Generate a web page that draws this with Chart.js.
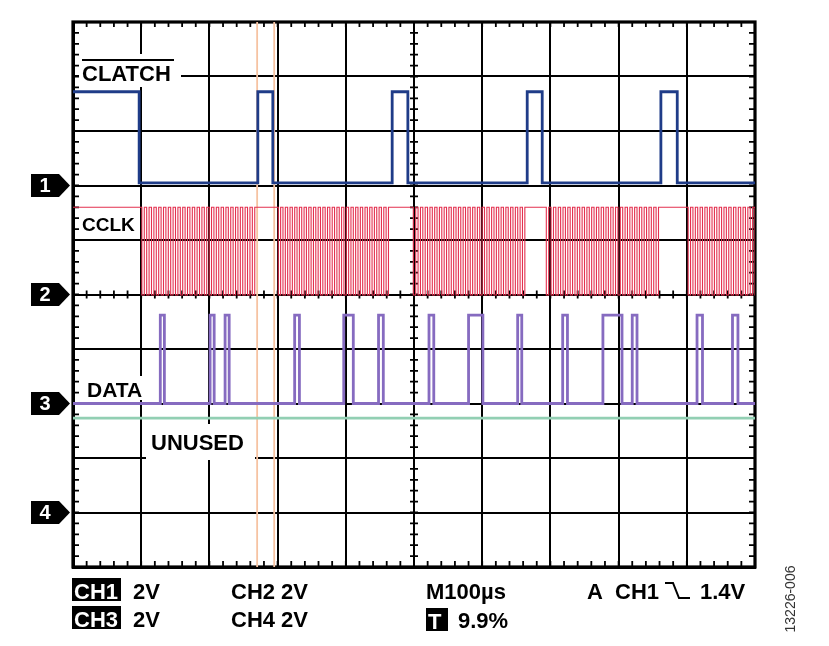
<!DOCTYPE html>
<html>
<head>
<meta charset="utf-8">
<title>CLATCH / CCLK / DATA</title>
<script src="https://cdn.jsdelivr.net/npm/chart.js@4.4.0/dist/chart.umd.min.js"></script>
<style>
  html, body { margin: 0; padding: 0; background: #fff; }
  #wrap { width: 829px; height: 646px; }
</style>
</head>
<body>
<div id="wrap"><canvas id="scope" width="829" height="646"></canvas></div>
<script>
// screen is 10 x 10 divisions, all values in divisions (0 = bottom / left)
var clatchLevels = [7.05, 8.72];   // low, high
var clatchEdges = [0.97, 2.71, 2.93, 4.68, 4.91, 6.66, 6.88, 8.62, 8.86];   // starts high

var cclkLevels = [4.99, 6.60];
var cclkBursts = [[1.01, 2.70], [3.01, 4.66], [4.99, 6.66], [6.94, 8.62], [9.02, 10.7]];
var cclkCycles = 24;   // clocks per burst

var dataLevels = [3.00, 4.62];
var dataEdges = [1.28, 1.34, 2.01, 2.07, 2.23, 2.29, 3.25, 3.32, 3.97, 4.11, 4.48, 4.55,
                 5.22, 5.29, 5.80, 6.01, 6.52, 6.58, 7.18, 7.25, 7.77, 8.05, 8.20, 8.27,
                 9.15, 9.23, 9.67, 9.75];   // starts low

var unusedLevel = 2.73;
var cursorPos = [2.70, 2.95];
var channelMarks = [["1", 7], ["2", 5], ["3", 3], ["4", 1]];

var FONT = '"Liberation Sans", Arial, sans-serif';

function squarePoints(edges, levels, startHigh) {
    var lvl = startHigh ? 1 : 0;
    var pts = [{x: 0, y: levels[lvl]}];
    edges.forEach(function (e) {
        pts.push({x: e, y: levels[lvl]});
        lvl = 1 - lvl;
        pts.push({x: e, y: levels[lvl]});
    });
    pts.push({x: 10, y: levels[lvl]});
    return pts;
}

function clockEdges(bursts, n) {
    var out = [];
    bursts.forEach(function (b) {
        var t = (b[1] - b[0]) / n;
        for (var k = 0; k < n; k++) {
            out.push(b[0] + k * t, b[0] + (k + 0.5) * t);
        }
    });
    return out;
}

function trace(label, pts, color, width, order) {
    return {
        label: label, data: pts, borderColor: color, borderWidth: width,
        pointRadius: 0, tension: 0, fill: false, order: order
    };
}

var datasets = [
    trace("CLATCH", squarePoints(clatchEdges, clatchLevels, true), "#1f3c88", 2.8, 1),
    trace("CCLK", squarePoints(clockEdges(cclkBursts, cclkCycles), cclkLevels, true), "#e4304f", 1.1, 2),
    trace("DATA", squarePoints(dataEdges, dataLevels, false), "#866bc0", 2.8, 1),
    trace("UNUSED", [{x: 0, y: unusedLevel}, {x: 10, y: unusedLevel}], "#92cfb3", 2.8, 3)
];
cursorPos.forEach(function (c) {
    datasets.push(trace("cursor", [{x: c, y: 0}, {x: c, y: 10}], "#f6c3a2", 1.8, 5));
});

// frame, minor ticks and the channel ground markers
var screenDecor = {
    id: "screenDecor",
    beforeDatasetsDraw: function (chart) {
        var ctx = chart.ctx, a = chart.chartArea;
        var xs = chart.scales.x, ys = chart.scales.y;
        var cx = xs.getPixelForValue(5), cy = ys.getPixelForValue(5);
        ctx.save();
        ctx.strokeStyle = "#000";
        ctx.lineWidth = 1.8;
        ctx.beginPath();
        for (var i = 0; i <= 50; i++) {
            var px = xs.getPixelForValue(i / 5), py = ys.getPixelForValue(i / 5);
            ctx.moveTo(px, a.top); ctx.lineTo(px, a.top + 5);
            ctx.moveTo(px, a.bottom); ctx.lineTo(px, a.bottom - 6);
            ctx.moveTo(px, cy - 4); ctx.lineTo(px, cy + 4);
            ctx.moveTo(a.left, py); ctx.lineTo(a.left + 6, py);
            ctx.moveTo(a.right, py); ctx.lineTo(a.right - 6, py);
            ctx.moveTo(cx - 4, py); ctx.lineTo(cx + 4, py);
        }
        ctx.stroke();
        ctx.lineWidth = 3.2;
        ctx.strokeRect(a.left, a.top, a.right - a.left, a.bottom - a.top);
        ctx.restore();
    },
    afterDraw: function (chart) {
        var ctx = chart.ctx, ys = chart.scales.y;
        ctx.save();
        channelMarks.forEach(function (m) {
            var y = ys.getPixelForValue(m[1]);
            ctx.fillStyle = "#000";
            ctx.beginPath();
            ctx.moveTo(31, y - 11.5); ctx.lineTo(59, y - 11.5); ctx.lineTo(70, y);
            ctx.lineTo(59, y + 11.5); ctx.lineTo(31, y + 11.5); ctx.closePath();
            ctx.fill();
            ctx.fillStyle = "#fff";
            ctx.font = "bold 20px " + FONT;
            ctx.textAlign = "center";
            ctx.textBaseline = "middle";
            ctx.fillText(m[0], 45, y + 1);
        });
        ctx.restore();
    }
};

// trace names and the readout below the screen
var readout = {
    id: "readout",
    afterDraw: function (chart) {
        var ctx = chart.ctx;
        ctx.save();
        ctx.textBaseline = "alphabetic";
        ctx.textAlign = "left";

        function label(text, x, base, size, box) {
            ctx.fillStyle = "#fff";
            ctx.fillRect(box[0], box[1], box[2], box[3]);
            ctx.fillStyle = "#000";
            ctx.font = "bold " + size + "px " + FONT;
            ctx.fillText(text, x, base);
        }
        label("CLATCH", 82, 81, 22, [79, 54, 102, 33]);
        ctx.fillRect(82, 59, 92, 2);   // overline
        label("CCLK", 82, 231, 19, [79, 212, 58, 22]);
        label("DATA", 87, 397, 21, [83, 376, 66, 24]);
        label("UNUSED", 151, 450, 22, [146, 424, 109, 36]);

        function boxed(text, x, top, w) {
            ctx.fillStyle = "#000";
            ctx.fillRect(x, top, w, 23);
            ctx.fillStyle = "#fff";
            ctx.font = "bold 22px " + FONT;
            ctx.fillText(text, x + 2, top + 21);
        }
        boxed("CH1", 72, 578, 49);
        boxed("CH3", 72, 606, 49);
        boxed("T", 426, 608, 22);

        ctx.fillStyle = "#000";
        ctx.font = "bold 22px " + FONT;
        ctx.fillText("2V", 133, 599);
        ctx.fillText("2V", 133, 627);
        ctx.fillText("CH2 2V", 231, 599);
        ctx.fillText("CH4 2V", 231, 627);
        ctx.fillText("M100\u00b5s", 426, 599);
        ctx.fillText("9.9%", 458, 628);
        ctx.fillText("A", 587, 599);
        ctx.fillText("CH1", 615, 599);
        ctx.fillText("1.4V", 700, 599);

        // falling edge trigger symbol
        ctx.strokeStyle = "#000";
        ctx.lineWidth = 2;
        ctx.beginPath();
        ctx.moveTo(665, 583); ctx.lineTo(673, 583);
        ctx.lineTo(679, 598); ctx.lineTo(690, 598);
        ctx.stroke();

        ctx.translate(795, 599);
        ctx.rotate(-Math.PI / 2);
        ctx.textAlign = "center";
        ctx.fillStyle = "#333";
        ctx.font = "14px " + FONT;
        ctx.fillText("13226-006", 0, 0);
        ctx.restore();
    }
};

function axis() {
    return {
        type: "linear", min: 0, max: 10,
        ticks: {display: false, stepSize: 1},
        grid: {color: "#000", lineWidth: 2, drawTicks: false},
        border: {display: true, color: "#000", width: 3}
    };
}

new Chart(document.getElementById("scope"), {
    type: "line",
    data: {datasets: datasets},
    options: {
        responsive: false,
        animation: false,
        devicePixelRatio: 1,
        layout: {padding: {left: 73, top: 22, right: 74, bottom: 79}},
        plugins: {legend: {display: false}, tooltip: {enabled: false}},
        scales: {x: axis(), y: axis()}
    },
    plugins: [screenDecor, readout]
});
</script>
</body>
</html>
